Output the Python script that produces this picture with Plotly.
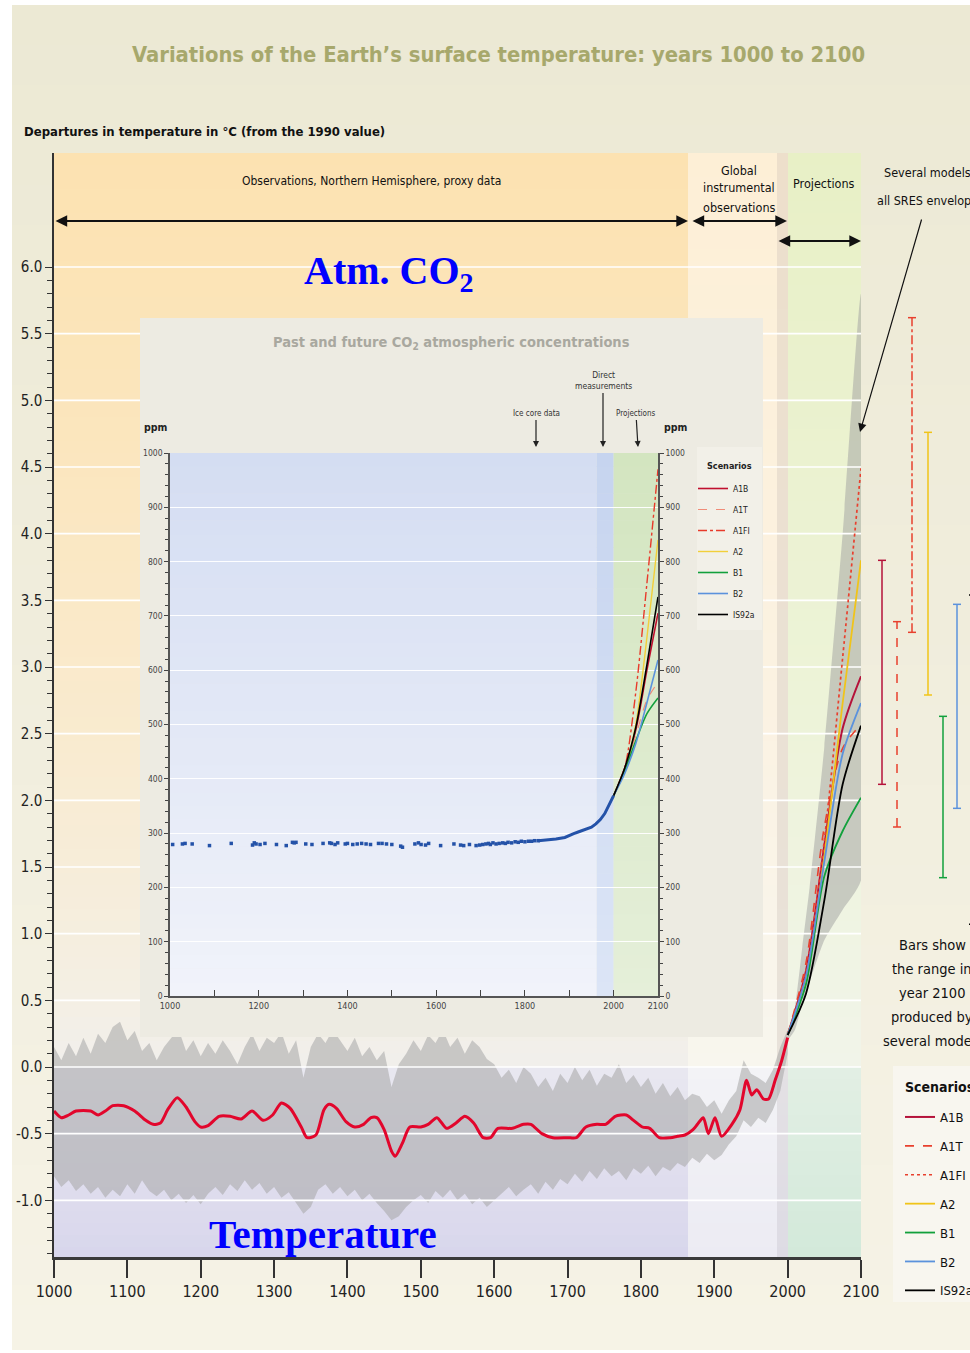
import plotly.graph_objects as go

# ======================= DATA =======================
# Northern-hemisphere temperature departure (smoothed, red line), degC from 1990
temp_years = [1000, 1010, 1020, 1030, 1050, 1060, 1070, 1080, 1095, 1110,
              1125, 1135, 1145, 1155, 1168, 1180, 1192, 1200, 1210, 1225,
              1240, 1255, 1270, 1285, 1298, 1310, 1322, 1337, 1345, 1357,
              1368, 1375, 1385, 1398, 1410, 1422, 1432, 1440, 1450, 1460,
              1465, 1475, 1485, 1500, 1510, 1522, 1535, 1548, 1560, 1572,
              1585, 1595, 1605, 1625, 1640, 1650, 1665, 1680, 1700, 1712,
              1725, 1740, 1752, 1765, 1780, 1790, 1802, 1812, 1825, 1840,
              1850, 1860, 1871, 1877, 1885, 1892, 1901, 1910, 1924, 1935,
              1944, 1951, 1958, 1967, 1974, 1983, 1992, 2000]
temp_values = [-0.33, -0.38, -0.36, -0.33, -0.33, -0.36, -0.33, -0.29, -0.29, -0.33,
               -0.40, -0.43, -0.42, -0.32, -0.23, -0.30, -0.41, -0.45, -0.44, -0.37,
               -0.37, -0.39, -0.33, -0.40, -0.36, -0.27, -0.31, -0.45, -0.53, -0.51,
               -0.32, -0.28, -0.31, -0.41, -0.45, -0.43, -0.38, -0.38, -0.47, -0.63,
               -0.67, -0.57, -0.45, -0.45, -0.43, -0.38, -0.46, -0.42, -0.37, -0.42,
               -0.53, -0.53, -0.46, -0.46, -0.43, -0.43, -0.50, -0.53, -0.53, -0.53,
               -0.45, -0.43, -0.43, -0.37, -0.36, -0.40, -0.45, -0.46, -0.53, -0.53,
               -0.52, -0.51, -0.47, -0.43, -0.38, -0.50, -0.38, -0.52, -0.43, -0.32,
               -0.10, -0.21, -0.17, -0.24, -0.24, -0.10, 0.05, 0.22]

# Uncertainty envelope of the past record (grey), every 10 years 1000-2000
env_years = list(range(1000, 2001, 10))
env_upper = [0.15, 0.05, 0.18, 0.08, 0.22, 0.10, 0.25, 0.18, 0.30, 0.34,
             0.20, 0.27, 0.12, 0.18, 0.05, 0.15, 0.22, 0.28, 0.12, 0.20,
             0.08, 0.18, 0.10, 0.20, 0.12, 0.02, 0.15, 0.25, 0.12, 0.22,
             0.18, 0.26, 0.10, 0.20, -0.08, 0.15, 0.25, 0.18, 0.28, 0.20,
             0.12, 0.22, 0.08, 0.15, 0.05, 0.12, -0.15, 0.02, 0.10, 0.20,
             0.12, 0.24, 0.18, 0.28, 0.15, 0.22, 0.10, 0.20, 0.15, 0.06,
             0.02, -0.08, -0.02, -0.12, 0.00, -0.05, -0.15, -0.08, -0.18, -0.05,
             -0.12, 0.00, -0.10, -0.02, -0.14, -0.05, -0.08, 0.02, -0.12, -0.06,
             -0.15, -0.08, -0.20, -0.12, -0.22, -0.15, -0.25, -0.20, -0.22, -0.30,
             -0.25, -0.35, -0.25, -0.18, 0.05, -0.05, -0.08, -0.12, -0.02, 0.15,
             0.28]
env_lower = [-0.82, -0.90, -0.85, -0.93, -0.88, -0.95, -0.90, -0.98, -0.92, -0.97,
             -0.88, -0.95, -0.85, -0.93, -0.97, -0.92, -1.00, -0.95, -1.02, -0.96,
             -1.03, -0.95, -0.90, -0.96, -0.88, -0.93, -0.85, -0.92, -0.87, -0.95,
             -0.90, -0.98, -0.94, -1.02, -1.10, -1.05, -0.92, -0.88, -0.95, -0.90,
             -0.97, -0.92, -1.00, -0.95, -1.02, -1.08, -1.15, -1.12, -1.05, -1.00,
             -0.96, -1.02, -0.93, -0.98, -0.92, -1.00, -0.95, -1.03, -0.98, -1.05,
             -1.00, -0.95, -0.90, -0.97, -0.92, -0.88, -0.95, -0.86, -0.92, -0.84,
             -0.88, -0.80, -0.86, -0.78, -0.84, -0.76, -0.82, -0.78, -0.85, -0.76,
             -0.80, -0.74, -0.82, -0.75, -0.78, -0.72, -0.75, -0.68, -0.72, -0.65,
             -0.70, -0.66, -0.58, -0.52, -0.40, -0.45, -0.38, -0.42, -0.32, -0.18,
             0.10]

# Projection envelope (several models, all SRES)
proj_env_years = [2000, 2010, 2020, 2030, 2050, 2075, 2100]
proj_env_upper = [0.22, 0.45, 0.90, 1.35, 2.40, 4.00, 5.80]
proj_env_lower = [0.20, 0.28, 0.48, 0.64, 0.95, 1.18, 1.40]

# Scenario projections of temperature
scenarios = ["A1B", "A1T", "A1FI", "A2", "B1", "B2", "IS92a"]
proj_years = [2000, 2025, 2050, 2075, 2100]
temp_A1B = [0.24, 0.72, 1.66, 2.54, 2.93]
temp_A1T = [0.24, 0.78, 1.80, 2.39, 2.57]
temp_A1FI = [0.24, 0.72, 1.70, 3.07, 4.49]
temp_A2 = [0.24, 0.64, 1.58, 2.73, 3.80]
temp_B1 = [0.24, 0.62, 1.43, 1.77, 2.02]
temp_B2 = [0.24, 0.68, 1.54, 2.35, 2.73]
temp_IS92a = [0.24, 0.55, 1.25, 2.12, 2.56]

# Range in year 2100 produced by several models (bars)
bar_low = [2.12, 1.80, 3.26, 2.79, 1.42, 1.94, 1.07]
bar_high = [3.80, 3.34, 5.62, 4.76, 2.63, 3.47, 3.54]

# CO2: ice core data (ppm)
ice_years = [1006, 1028, 1034, 1050, 1089, 1138, 1186, 1190, 1194, 1203,
             1214, 1240, 1262, 1276, 1280, 1284, 1306, 1320, 1345, 1360,
             1364, 1372, 1378, 1395, 1400, 1412, 1422, 1432, 1442, 1452,
             1470, 1478, 1488, 1500, 1520, 1524, 1552, 1560, 1566, 1576,
             1583, 1610, 1640, 1655, 1662, 1675, 1690, 1698, 1705, 1712,
             1718, 1722, 1728, 1735, 1742, 1750, 1756, 1762, 1770, 1778,
             1785, 1792, 1800, 1808, 1815, 1822, 1830]
ice_ppm = [279, 280, 281, 280, 277, 281, 278, 282, 280, 279,
           281, 279, 277, 283, 282, 283, 280, 279, 281, 282,
           281, 279, 282, 280, 281, 279, 280, 281, 280, 279,
           281, 281, 280, 279, 276, 274, 280, 282, 279, 278,
           281, 277, 280, 278, 277, 279, 277, 278, 279, 280,
           281, 279, 282, 280, 281, 282, 281, 283, 282, 284,
           283, 285, 284, 285, 285, 286, 286]
# CO2: ice core + direct measurements (continuous)
direct_years = [1830, 1850, 1870, 1890, 1900, 1910, 1920, 1930, 1940, 1950,
                1960, 1970, 1980, 1990, 2000]
direct_ppm = [286, 287, 289, 292, 296, 299, 302, 305, 309, 311,
              317, 325, 336, 353, 369]
# CO2 projections (ppm)
co2_years = [2000, 2025, 2050, 2075, 2100]
co2_A1B = [369, 420, 490, 600, 705]
co2_A1T = [369, 420, 480, 545, 578]
co2_A1FI = [369, 420, 560, 760, 970]
co2_A2 = [369, 415, 500, 660, 840]
co2_B1 = [369, 415, 470, 520, 549]
co2_B2 = [369, 410, 465, 540, 619]
co2_IS92a = [369, 420, 495, 610, 735]

x_tick_years = list(range(1000, 2101, 100))
y_tick_values = [-1.0, -0.5, 0.0, 0.5, 1.0, 1.5, 2.0, 2.5, 3.0, 3.5, 4.0, 4.5, 5.0, 5.5, 6.0]
inset_x_ticks = [1000, 1200, 1400, 1600, 1800, 2000, 2100]
inset_y_ticks = [0, 100, 200, 300, 400, 500, 600, 700, 800, 900, 1000]

temp_proj = dict(A1B=temp_A1B, A1T=temp_A1T, A1FI=temp_A1FI, A2=temp_A2,
                 B1=temp_B1, B2=temp_B2, IS92a=temp_IS92a)
co2_proj = dict(A1B=co2_A1B, A1T=co2_A1T, A1FI=co2_A1FI, A2=co2_A2,
                B1=co2_B1, B2=co2_B2, IS92a=co2_IS92a)

# ======================= STYLE / GEOMETRY =======================
NARROW = "Liberation Sans Narrow, Arial Narrow, DejaVu Sans Condensed, sans-serif"
SERIF = "Liberation Serif, Times New Roman, serif"

main_style = {
    "A1B": ("#B5123A", "solid", 2.0),
    "A1T": ("#E8402E", "dash", 1.6),
    "A1FI": ("#E8402E", "dot", 1.7),
    "A2": ("#F0C419", "solid", 1.8),
    "B1": ("#12A03C", "solid", 1.8),
    "B2": ("#5B92DC", "solid", 1.8),
    "IS92a": ("#000000", "solid", 1.8),
}
bar_style = {
    "A1B": ("#B5123A", "solid"),
    "A1T": ("#E8402E", "dash"),
    "A1FI": ("#E8402E", "dashdot"),
    "A2": ("#F0C419", "solid"),
    "B1": ("#12A03C", "solid"),
    "B2": ("#5B92DC", "solid"),
    "IS92a": ("#000000", "solid"),
}
inset_style = {
    "A1B": ("#C0102E", "solid", 1.6),
    "A1T": ("#F08C78", "dash", 1.2),
    "A1FI": ("#E83A2A", "dashdot", 1.4),
    "A2": ("#F2CF3A", "solid", 1.4),
    "B1": ("#12A03C", "solid", 1.6),
    "B2": ("#5B92DC", "solid", 1.6),
    "IS92a": ("#000000", "solid", 1.6),
}
bar_px = [882, 897, 912, 928, 943, 957, 973]

L, R, T, B = 54, 861, 153, 1257
W, H = 970, 1353


def px(x):
    return (x - L) / (R - L)


def py(y):
    return (B - y) / (B - T)


def yr(xp):   # pixel -> year (main axis)
    return 1000 + (xp - L) * 1100.0 / (R - L)


def tv(yp):   # pixel -> temperature (main axis)
    return -1.425 + (B - yp) * (6.855 + 1.425) / (B - T)


def hex2rgb(h):
    h = h.lstrip("#")
    return tuple(int(h[i:i + 2], 16) for i in (0, 2, 4))


def color_at(stops, y):
    for (y0, c0), (y1, c1) in zip(stops[:-1], stops[1:]):
        if y0 <= y <= y1:
            t = (y - y0) / (y1 - y0) if y1 > y0 else 0
            a, b = hex2rgb(c0), hex2rgb(c1)
            return "rgb(%d,%d,%d)" % tuple(round(a[i] + (b[i] - a[i]) * t) for i in range(3))
    return stops[-1][1]


shapes = []


def vgrad(x0, x1, stops, step=12):
    y = stops[0][0]
    yend = stops[-1][0]
    while y < yend:
        y2 = min(y + step, yend)
        shapes.append(dict(type="rect", xref="paper", yref="paper",
                           x0=px(x0), x1=px(x1), y0=py(min(y2 + 1, yend)), y1=py(y),
                           fillcolor=color_at(stops, (y + y2) / 2), line=dict(width=0),
                           layer="below"))
        y = y2


# page background
vgrad(12, 975, [(5, "#ECE9D4"), (600, "#F0EDDC"), (1350, "#F6F3E6")], step=20)
# band: proxy data
vgrad(L, 688, [(T, "#FCE2B1"), (450, "#FBE6BE"), (750, "#F9EBD0"), (1000, "#F4EFE4"), (1067, "#F1EFEC")])
vgrad(L, 688, [(1067, "#E9E8F0"), (1257, "#D8D6EC")])
# band: instrumental
vgrad(688, 777, [(T, "#FDEFD6"), (700, "#FBF2E2"), (1067, "#F8F6EE")])
vgrad(688, 777, [(1067, "#F3F3F6"), (1257, "#ECEBF3")])
# strip 1986-2000
vgrad(777, 788, [(T, "#EDDFCB"), (1067, "#E8E2DA")])
vgrad(777, 788, [(1067, "#E4E1E4"), (1257, "#DDDBE4")])
# band: projections
vgrad(788, R, [(T, "#E8F0C6"), (700, "#EDF3D8"), (1067, "#F1F4E9")])
vgrad(788, R, [(1067, "#E2EFE4"), (1257, "#D3E9DA")])


# inset plot-area bands (drawn in the inset subplot, below its grid)
def inset_band(x0, x1, ctop, cbot, step=25):
    for v in range(0, 1000, step):
        t = (v + step / 2) / 1000.0
        c = color_at([(0, cbot), (1, ctop)], t)
        shapes.append(dict(type="rect", xref="x3", yref="y3", x0=x0, x1=x1,
                           y0=v, y1=min(v + step + 1, 1000), fillcolor=c,
                           line=dict(width=0), layer="below"))


inset_band(1000, 1962, "#D4DDF2", "#F1F3FA")
inset_band(1962, 2000, "#C6D4EF", "#DCE5F6")
inset_band(2000, 2100, "#D3E5C0", "#E5EFD9")

# legend boxes (drawn above plots, below legend text)
shapes.append(dict(type="rect", xref="paper", yref="paper", x0=px(893), x1=px(990),
                   y0=py(1302), y1=py(1066), fillcolor="#F8F6EF", line=dict(width=0),
                   layer="above"))
shapes.append(dict(type="rect", xref="paper", yref="paper", x0=px(697), x1=px(762),
                   y0=py(630), y1=py(447), fillcolor="#F2F0E8", line=dict(width=0),
                   layer="above"))

# bars (range in 2100)
for i, s in enumerate(scenarios):
    col, dash = bar_style[s]
    xc = px(bar_px[i])
    cap = 4.0 / (R - L)
    shapes.append(dict(type="line", xref="paper", yref="y", x0=xc, x1=xc,
                       y0=bar_low[i], y1=bar_high[i], line=dict(color=col, width=1.5, dash=dash),
                       layer="above"))
    for v in (bar_low[i], bar_high[i]):
        shapes.append(dict(type="line", xref="paper", yref="y", x0=xc - cap, x1=xc + cap,
                           y0=v, y1=v, line=dict(color=col, width=1.5), layer="above"))

# ======================= FIGURE =======================
fig = go.Figure()

# past uncertainty envelope
fig.add_trace(go.Scatter(x=env_years + env_years[::-1], y=env_upper + env_lower[::-1],
                         fill="toself", fillcolor="rgba(165,165,165,0.55)", mode="lines",
                         line=dict(width=0), hoverinfo="skip", showlegend=False))
# projection envelope
fig.add_trace(go.Scatter(x=proj_env_years + proj_env_years[::-1],
                         y=proj_env_upper + proj_env_lower[::-1],
                         fill="toself", fillcolor="rgba(160,160,160,0.5)", mode="lines",
                         line=dict(width=0, shape="spline", smoothing=0.6),
                         hoverinfo="skip", showlegend=False))
# white grid lines above the envelope
gx, gy = [], []
for v in y_tick_values:
    gx += [1000, 2100, None]
    gy += [v, v, None]
fig.add_trace(go.Scatter(x=gx, y=gy, mode="lines", line=dict(color="white", width=1.6),
                         hoverinfo="skip", showlegend=False))
# observed temperature
fig.add_trace(go.Scatter(x=temp_years, y=temp_values, mode="lines",
                         line=dict(color="#E2062C", width=3, shape="spline", smoothing=0.7),
                         hoverinfo="skip", showlegend=False))
# scenario projections
for s in scenarios:
    col, dash, w = main_style[s]
    fig.add_trace(go.Scatter(x=proj_years, y=temp_proj[s], mode="lines", name=s,
                             line=dict(color=col, dash=dash, width=w, shape="spline", smoothing=0.8),
                             legend="legend", legendgroup="m" + s, hoverinfo="skip"))

# inset panel background (its own subplot, drawn above the main plot)
fig.add_trace(go.Scatter(x=[0, 1, 1, 0, 0], y=[0, 0, 1, 1, 0], fill="toself",
                         fillcolor="#EDEBE2", mode="lines", line=dict(width=0),
                         xaxis="x2", yaxis="y2", hoverinfo="skip", showlegend=False))

# inset: CO2
fig.add_trace(go.Scatter(x=ice_years, y=ice_ppm, mode="markers",
                         marker=dict(color="#2452A8", size=3.5, symbol="square"),
                         xaxis="x3", yaxis="y3", hoverinfo="skip", showlegend=False))
fig.add_trace(go.Scatter(x=direct_years, y=direct_ppm, mode="lines",
                         line=dict(color="#2452A8", width=3),
                         xaxis="x3", yaxis="y3", hoverinfo="skip", showlegend=False))
for s in scenarios:
    col, dash, w = inset_style[s]
    fig.add_trace(go.Scatter(x=co2_years, y=co2_proj[s], mode="lines", name=s,
                             line=dict(color=col, dash=dash, width=w, shape="spline", smoothing=0.8),
                             xaxis="x3", yaxis="y3", legend="legend2", legendgroup="i" + s,
                             hoverinfo="skip"))
# anchor trace for right-hand ppm axis
fig.add_trace(go.Scatter(x=[1000], y=[0], mode="markers", marker=dict(opacity=0),
                         xaxis="x3", yaxis="y4", hoverinfo="skip", showlegend=False))

# ---------------- annotations ----------------
ann = []


def text(x, y, s, size=15, color="#111", family=NARROW, xanchor="center", **kw):
    ann.append(dict(x=x, y=y, xref="paper", yref="paper", text=s, showarrow=False,
                    xanchor=xanchor, yanchor="middle",
                    font=dict(family=family, size=size, color=color), **kw))


text(px(498), py(55), "<b>Variations of the Earth’s surface temperature: years 1000 to 2100</b>",
     size=21.8, color="#A7A86C")
text(px(22), py(131), "<b>Departures in temperature in °C (from the 1990 value)</b>",
     size=13, xanchor="left")
text(px(371), py(181), "Observations, Northern Hemisphere, proxy data", size=12)
for yy, s in zip([170, 188, 207], ["Global", "instrumental", "observations"]):
    text(px(739), py(yy), s, size=12.5)
text(px(824), py(183), "Projections", size=12.5)
text(px(927), py(172), "Several models", size=12.5)
text(px(927), py(201), "all SRES envelope", size=12.5)
text(px(389), py(273), "<b>Atm. CO<sub>2</sub></b>", size=40, color="#0000FF", family=SERIF)
text(px(323), py(1234), "<b>Temperature</b>", size=41, color="#0000FF", family=SERIF)
for yy, s in zip([945, 969, 993, 1017, 1041],
                 ["Bars show", "the range in", "year 2100", "produced by", "several models"]):
    text(px(932), py(yy), s, size=14.5, color="#111")
text(px(903), py(1087), "<b>Scenarios</b>", size=14, xanchor="left")

# inset texts
text(px(451), py(343), "<b>Past and future CO<sub>2</sub> atmospheric concentrations</b>",
     size=14.5, color="#A9A89F")
text(px(156), py(427), "<b>ppm</b>", size=10.5, color="#222")
text(px(676), py(427), "<b>ppm</b>", size=10.5, color="#222")
text(px(705), py(466), "<b>Scenarios</b>", size=9, color="#222", xanchor="left")

# double arrows over the time bands
arrow_common = dict(xref="x", yref="y", axref="pixel", ayref="pixel", text="",
                    showarrow=True, arrowhead=2, arrowsize=1.3, arrowwidth=1.8,
                    arrowcolor="#111", arrowside="end+start", standoff=0, startstandoff=0)
ann.append(dict(x=yr(688), y=tv(221), ax=-(688 - L), ay=0, **arrow_common))
ann.append(dict(x=yr(787), y=tv(221), ax=-(787 - 691), ay=0, **arrow_common))
ann.append(dict(x=yr(R), y=tv(241), ax=-(R - 777), ay=0, **arrow_common))
# pointer to SRES envelope
ann.append(dict(x=yr(860), y=tv(432), xref="x", yref="y", axref="pixel", ayref="pixel",
                ax=62, ay=-214, text="", showarrow=True, arrowhead=2, arrowsize=1.4,
                arrowwidth=1.2, arrowcolor="#111", standoff=0))

# inset pointers
inset_arrow = dict(xref="paper", yref="paper", axref="pixel", ayref="pixel", showarrow=True,
                   arrowhead=2, arrowsize=1, arrowwidth=1.2, arrowcolor="#222")
ann.append(dict(x=px(536), y=py(447), ax=0, ay=-33, text="Ice core data",
                font=dict(family=NARROW, size=8, color="#333"), **inset_arrow))
ann.append(dict(x=px(603), y=py(447), ax=0, ay=-66, text="Direct<br>measurements",
                font=dict(family=NARROW, size=8.5, color="#333"), **inset_arrow))
ann.append(dict(x=px(638), y=py(447), ax=-2, ay=-33, text="Projections",
                font=dict(family=NARROW, size=8, color="#333"), **inset_arrow))

minor_vals = [round(-1.4 + 0.1 * i, 1) for i in range(75)]
minor_vals = [v for v in minor_vals if round(v * 2, 6) != round(v * 2) and v <= 6.0]

axis_font = dict(family=NARROW, size=16, color="#222")
inset_xfont = dict(family=NARROW, size=9, color="#444")
inset_yfont = dict(family=NARROW, size=8.5, color="#444")

fig.update_layout(
    width=W, height=H,
    margin=dict(l=L, r=W - R, t=T, b=H - B, autoexpand=False),
    paper_bgcolor="white", plot_bgcolor="rgba(0,0,0,0)",
    shapes=shapes, annotations=ann,
    xaxis=dict(domain=[0, 1], range=[1000, 2100], anchor="y", tickvals=x_tick_years,
               ticks="outside", ticklen=18, tickwidth=1.5, tickcolor="#333",
               showline=True, linewidth=3, linecolor="#3A3A3A", showgrid=False,
               zeroline=False, tickfont=axis_font),
    yaxis=dict(domain=[0, 1], range=[-1.425, 6.855], anchor="x", tickvals=y_tick_values,
               ticktext=["%.1f" % v for v in y_tick_values],
               ticks="outside", ticklen=7, tickwidth=1.3, tickcolor="#333",
               minor=dict(tickmode="array", tickvals=minor_vals, ticks="outside",
                          ticklen=5, tickwidth=1.1, tickcolor="#333"),
               showline=True, linewidth=1.5, linecolor="#333", showgrid=False,
               zeroline=False, tickfont=dict(family=NARROW, size=15, color="#222")),
    xaxis2=dict(domain=[px(140), px(763)], range=[0, 1], anchor="y2", visible=False),
    yaxis2=dict(domain=[py(1037), py(318)], range=[0, 1], anchor="x2", visible=False),
    xaxis3=dict(domain=[px(170), px(658)], range=[1000, 2100], anchor="y3",
                tickvals=inset_x_ticks, ticks="inside", ticklen=6, tickcolor="#444",
                minor=dict(dtick=100, tick0=1000, ticks="inside", ticklen=6, tickcolor="#444"),
                showline=True, linewidth=1.5, linecolor="#555", showgrid=False,
                zeroline=False, tickfont=inset_xfont),
    yaxis3=dict(domain=[py(996), py(453)], range=[0, 1000], anchor="x3",
                tickvals=inset_y_ticks, ticks="outside", ticklen=4, tickcolor="#444",
                minor=dict(dtick=20, tick0=0, ticks="outside", ticklen=3, tickcolor="#444"),
                showline=True, linewidth=1.5, linecolor="#555",
                showgrid=True, gridcolor="rgba(255,255,255,0.95)", gridwidth=1.2,
                zeroline=False, tickfont=inset_yfont),
    yaxis4=dict(overlaying="y3", side="right", anchor="x3", range=[0, 1000],
                tickvals=inset_y_ticks, ticks="outside", ticklen=4, tickcolor="#444",
                minor=dict(dtick=20, tick0=0, ticks="outside", ticklen=3, tickcolor="#444"),
                showline=True, linewidth=1.5, linecolor="#555", showgrid=False,
                zeroline=False, tickfont=inset_yfont),
    legend=dict(x=px(900), xanchor="left", y=py(1102), yanchor="top",
                bgcolor="rgba(0,0,0,0)", borderwidth=0, tracegroupgap=9, itemwidth=30,
                font=dict(family=NARROW, size=13, color="#111")),
    legend2=dict(x=px(693), xanchor="left", y=py(474), yanchor="top",
                 bgcolor="rgba(0,0,0,0)", borderwidth=0, tracegroupgap=2, itemwidth=30,
                 font=dict(family=NARROW, size=8.5, color="#222")),
    showlegend=True,
)

fig.write_html("out.html", config={"displayModeBar": False})
